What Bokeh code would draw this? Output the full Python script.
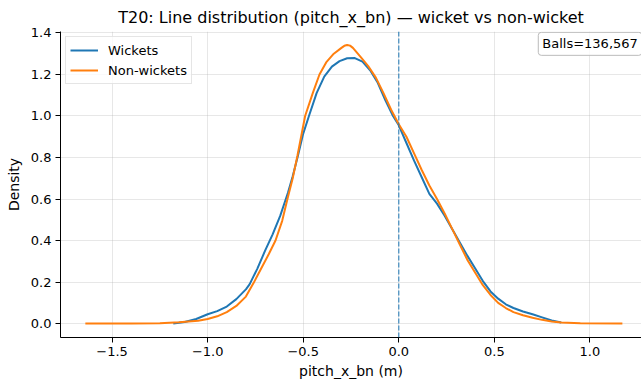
from bokeh.plotting import figure
from bokeh.models import Span, Label, Legend, LegendItem, FixedTicker
from bokeh.embed import file_html
from bokeh.resources import INLINE

# ---- data ----
wk_x = [-1.18, -1.12, -1.06, -1.00, -0.95, -0.90, -0.85, -0.80, -0.78, -0.74, -0.70, -0.66,
        -0.62, -0.58, -0.555, -0.53, -0.50, -0.47, -0.43, -0.39, -0.35, -0.31, -0.27, -0.23,
        -0.19, -0.15, -0.11, -0.07, -0.03, 0.00, 0.04, 0.08, 0.12, 0.16, 0.20, 0.24, 0.28,
        0.32, 0.36, 0.40, 0.44, 0.48, 0.52, 0.56, 0.60, 0.65, 0.70, 0.75, 0.80, 0.85]
wk_y = [0.000, 0.008, 0.022, 0.045, 0.060, 0.082, 0.118, 0.165, 0.190, 0.265, 0.350, 0.430,
        0.520, 0.630, 0.710, 0.800, 0.915, 1.000, 1.110, 1.190, 1.238, 1.264, 1.278, 1.279,
        1.262, 1.220, 1.160, 1.075, 1.000, 0.955, 0.870, 0.785, 0.705, 0.625, 0.578, 0.520, 0.455,
        0.390, 0.325, 0.265, 0.205, 0.155, 0.120, 0.093, 0.075, 0.058, 0.045, 0.030, 0.015, 0.005]

nw_x = [-1.64, -1.40, -1.25, -1.15, -1.05, -1.00, -0.95, -0.90, -0.85, -0.80, -0.76, -0.72,
        -0.68, -0.645, -0.61, -0.58, -0.555, -0.53, -0.49, -0.45, -0.415, -0.38, -0.34, -0.30,
        -0.285, -0.27, -0.255, -0.24, -0.20, -0.16, -0.12, -0.08, -0.04, 0.00, 0.04, 0.08, 0.12,
        0.16, 0.20, 0.24, 0.28, 0.32, 0.36, 0.40, 0.44, 0.48, 0.52, 0.56, 0.60, 0.65, 0.70, 0.75,
        0.80, 0.85, 0.95, 1.17]
nw_y = [0.000, 0.000, 0.002, 0.006, 0.014, 0.022, 0.035, 0.055, 0.085, 0.130, 0.195, 0.265,
        0.335, 0.400, 0.495, 0.610, 0.700, 0.810, 1.000, 1.110, 1.200, 1.258, 1.300, 1.328,
        1.338, 1.342, 1.339, 1.328, 1.285, 1.240, 1.185, 1.110, 1.030, 0.960, 0.900, 0.820, 0.740,
        0.665, 0.600, 0.530, 0.455, 0.380, 0.305, 0.245, 0.185, 0.138, 0.100, 0.075, 0.055, 0.040,
        0.028, 0.018, 0.010, 0.005, 0.002, 0.000]

x_ticks = [-1.5, -1.0, -0.5, 0.0, 0.5, 1.0]
x_tick_labels = ["\u22121.5", "\u22121.0", "\u22120.5", "0.0", "0.5", "1.0"]
y_ticks = [0.0, 0.2, 0.4, 0.6, 0.8, 1.0, 1.2, 1.4]
y_tick_labels = ["0.0", "0.2", "0.4", "0.6", "0.8", "1.0", "1.2", "1.4"]

title_text = "T20: Line distribution (pitch_x_bn) \u2014 wicket vs non-wicket"
x_label = "pitch_x_bn (m)"
y_label = "Density"
series_names = ["Wickets", "Non-wickets"]
balls_text = "Balls=136,567"
ref_x = 0.0

FONT = "DejaVu Sans"
BLUE = "#1f77b4"
ORANGE = "#ff7f0e"

p = figure(width=641, height=381, x_range=(-1.77, 1.27), y_range=(-0.067, 1.407),
           output_backend="svg", toolbar_location=None, title=title_text,
           min_border_left=60, min_border_right=0, min_border_top=30, min_border_bottom=44)
p.background_fill_color = "white"
p.border_fill_color = "white"
p.outline_line_color = None

p.title.text_font = FONT
p.title.text_font_size = "16px"
p.title.text_font_style = "normal"
p.title.text_color = "black"
p.title.align = "center"
p.title.offset = 4

for ax in (p.xaxis[0], p.yaxis[0]):
    ax.axis_line_color = "black"
    ax.axis_line_width = 1
    ax.major_tick_line_color = "black"
    ax.major_tick_out = 5
    ax.major_tick_in = 0
    ax.minor_tick_line_color = None
    ax.major_label_text_font = FONT
    ax.major_label_text_font_size = "13px"
    ax.major_label_text_color = "black"
    ax.axis_label_text_font = FONT
    ax.axis_label_text_font_size = "14px"
    ax.axis_label_text_font_style = "normal"
    ax.axis_label_text_color = "black"
    ax.major_label_standoff = 4

p.xaxis.ticker = FixedTicker(ticks=x_ticks)
p.yaxis.ticker = FixedTicker(ticks=y_ticks)
p.xaxis.major_label_overrides = dict(zip(x_ticks, x_tick_labels))
p.yaxis.major_label_overrides = dict(zip(y_ticks, y_tick_labels))
p.xaxis.axis_label = x_label
p.yaxis.axis_label = y_label
p.xaxis.axis_label_standoff = 4
p.yaxis.axis_label_standoff = 6

p.grid.grid_line_color = "#b0b0b0"
p.grid.grid_line_alpha = 0.3
p.grid.grid_line_width = 1

r1 = p.line(wk_x, wk_y, line_color=BLUE, line_width=2)
r2 = p.line(nw_x, nw_y, line_color=ORANGE, line_width=2)

p.add_layout(Span(location=ref_x, dimension="height", line_color=BLUE,
                  line_dash="5 2", line_width=1.2, line_alpha=0.85))

legend = Legend(items=[LegendItem(label=series_names[0], renderers=[r1]),
                       LegendItem(label=series_names[1], renderers=[r2])],
                location="top_left")
legend.margin = 5
legend.padding = 4
legend.spacing = 2
legend.glyph_width = 28
legend.glyph_height = 18
legend.label_height = 18
legend.label_standoff = 10
legend.label_text_font = FONT
legend.label_text_font_size = "13px"
legend.label_text_color = "black"
legend.border_line_color = "#cccccc"
legend.border_line_width = 1
legend.background_fill_color = "white"
legend.background_fill_alpha = 0.8
p.add_layout(legend)

lab = Label(x=0.73, y=1.403, text=balls_text, text_baseline="top", text_align="left",
            text_font=FONT, text_font_size="13px", text_color="black",
            background_fill_color="white", background_fill_alpha=0.8,
            border_line_color="#bbbbbb", border_line_width=1,
            padding=4, border_radius=3)
p.add_layout(lab)

open("out.html", "w").write(file_html(p, INLINE))
